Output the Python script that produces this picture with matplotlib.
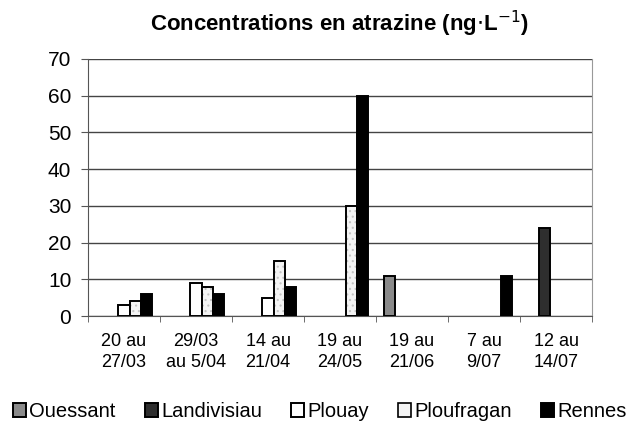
import numpy as np
import matplotlib
matplotlib.use("Agg")
import matplotlib.pyplot as plt

plt.rcParams['font.family'] = ['Liberation Sans', 'DejaVu Sans']
plt.rcParams['hatch.linewidth'] = 0.8

periods = ["20 au\n27/03", "29/03\nau 5/04", "14 au\n21/04", "19 au\n24/05",
           "19 au\n21/06", "7 au\n9/07", "12 au\n14/07"]
sites = ["Ouessant", "Landivisiau", "Plouay", "Ploufragan", "Rennes"]
ouessant = [0, 0, 0, 0, 11, 0, 0]
landivisiau = [0, 0, 0, 0, 0, 0, 24]
plouay = [3, 9, 5, 0, 0, 0, 0]
ploufragan = [4, 8, 15, 30, 0, 0, 0]
rennes = [6, 6, 8, 60, 0, 11, 0]
series = [ouessant, landivisiau, plouay, ploufragan, rennes]
colors = ["#8a8a8a", "#2e2e2e", "#ffffff", "#f4f4f4", "#000000"]
hatches = [None, None, None, "...", None]

fig = plt.figure(figsize=(6.4, 4.29), dpi=100)
ax = fig.add_axes([0.1375, 0.2634, 0.7875, 0.5991])

x = np.arange(len(periods))
w = 1 / 6.5
for i, vals in enumerate(series):
    vals = np.array(vals, dtype=float)
    mask = vals > 0
    pos = x[mask] + (i - 2) * w
    if hatches[i]:
        # grey stipple underneath, black outline on top
        ax.bar(pos, vals[mask], width=w, color=colors[i], edgecolor="#c4c4c4",
               linewidth=0, hatch=hatches[i], zorder=3)
        ax.bar(pos, vals[mask], width=w, fill=False, edgecolor="black",
               linewidth=1.4, zorder=4)
        ax.bar([0], [0], width=0, color=colors[i], edgecolor="black",
               linewidth=1.2, label=sites[i])
    else:
        ax.bar(pos, vals[mask], width=w, color=colors[i], edgecolor="black",
               linewidth=1.4, zorder=3, label=sites[i])

ax.set_xlim(-0.5, len(periods) - 0.5)
ax.set_ylim(0, 70)
ax.set_yticks(range(0, 71, 10))
ax.tick_params(axis='y', labelsize=15, length=5, color='#555555', pad=7)
ax.set_xticks(x)
ax.set_xticklabels(periods, fontsize=13, linespacing=1.3)
ax.tick_params(axis='x', length=0, pad=12)
ax.set_xticks(np.arange(-0.5, len(periods), 1), minor=True)
ax.tick_params(axis='x', which='minor', length=4, color='#555555')
ax.grid(axis='y', color='#444444', linewidth=1)
ax.set_axisbelow(True)
for s in ['left', 'bottom']:
    ax.spines[s].set_color('#555555')
ax.spines['right'].set_color('#999999')
ax.spines['top'].set_visible(False)

fig.suptitle("Concentrations en atrazine (ng$\\cdot$L$^{-1}$)", x=0.53, y=0.98,
             fontsize=16, fontweight='bold')

handles, labels = ax.get_legend_handles_labels()
order = [labels.index(s) for s in sites]
ax.legend([handles[k] for k in order], sites, loc='upper center',
          bbox_to_anchor=(0.46, -0.265), ncol=5,
          frameon=False, fontsize=14.5, handlelength=0.65, handleheight=0.65,
          handletextpad=0.15, columnspacing=1.45)

fig.savefig("out.png", dpi=100)
